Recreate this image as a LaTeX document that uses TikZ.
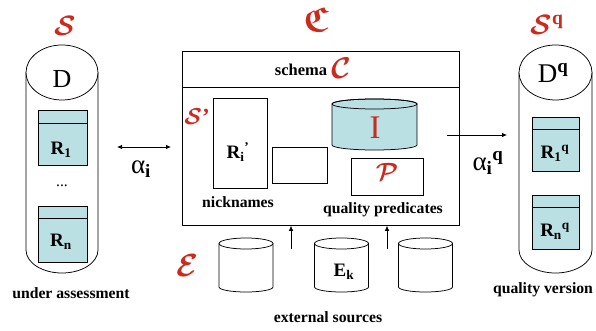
\RequirePackage{fix-cm}
\documentclass[tikz,border=0pt]{standalone}
\usepackage{amsmath,amssymb}
\usepackage{fontspec}
\setmainfont{Liberation Serif}
\usetikzlibrary{arrows.meta}
\definecolor{qred}{RGB}{205,42,30}
\definecolor{qcyan}{RGB}{187,224,228}
\newcommand\extcyl[2]{%
  \draw[fill=white] ({#1-27},243.5) -- ({#1-27},287) arc[start angle=180,end angle=360,x radius=27pt,y radius=5pt] -- ({#1+27},243.5);
  \draw (#1,243.5) ellipse[x radius=27pt,y radius=5.5pt];
  \node[inner sep=0,minimum width=54pt,minimum height=49pt] (#2) at (#1,265) {};}
\begin{document}
\begin{tikzpicture}[x=1pt,y=-1pt,line width=0.75pt,
  lbl/.style={font=\fontsize{15.7}{18}\selectfont\bfseries,inner sep=0,anchor=base},
  calli/.style={text=qred,inner sep=0},
  tbl/.style={draw,fill=qcyan,inner sep=0,anchor=north west},
  plainbox/.style={draw,inner sep=0,anchor=north west},
  rtxt/.style={font=\fontsize{19}{22}\selectfont\bfseries,inner sep=0},
  arr/.style={-{Latex[length=5pt,width=4.5pt]}},
  darr/.style={{Latex[length=5pt,width=4.5pt]}-{Latex[length=5pt,width=4.5pt]}}
]
\useasboundingbox (0,0) rectangle (596,331);

% ---------- left cylinder S ----------
\draw[fill=white] (26,72.5) -- (26,250) arc[start angle=180,end angle=360,x radius=36pt,y radius=23pt] -- (98,72.5);
\draw[fill=white] (62,72.5) ellipse[x radius=36pt,y radius=27.5pt];
\node[inner sep=0,minimum width=72pt,minimum height=228pt] (Scyl) at (62,159) {};
\node[inner sep=0,font=\fontsize{26}{28}\selectfont] (D) at (62,79) {D};
\node[calli,font=\fontsize{28}{30}\selectfont] (Slab) at (65,26) {$\boldsymbol{\mathcal{S}}$};
\node[tbl,minimum width=49pt,minimum height=55pt] (R1) at (38,110) {};
\draw (R1.north west) ++(0,13) -- ++(49,0);
\node[rtxt] (R1t) at (61,150) {R\textsubscript{1}};
\node[inner sep=0,font=\fontsize{15.7}{18}\selectfont] (dots) at (62,186) {...};
\node[tbl,minimum width=49pt,minimum height=56pt] (Rn) at (38,206) {};
\draw (Rn.north west) ++(0,12) -- ++(49,0);
\node[rtxt] (Rnt) at (61,242) {R\textsubscript{n}};
\node[lbl] (ua) at (71,298) {under assessment};

% ---------- alpha_i ----------
\coordinate (a1) at (117,147);
\coordinate (a2) at (171,147);
\draw[darr] (a1) -- (a2);
\node[inner sep=0,font=\fontsize{27}{30}\selectfont] (al) at (141,169) {α\textsubscript{\textbf{i}}};

% ---------- context box ----------
\node[calli,font=\fontsize{24.88}{28}\selectfont] (frak) at (316,19) {\scalebox{1.4}{$\boldsymbol{\mathfrak{C}}$}};
\node[plainbox,minimum width=277pt,minimum height=174pt] (ctx) at (182,51) {};
\draw (ctx.west |- 0,87) -- (ctx.east |- 0,87);
\node[lbl,font=\fontsize{16.5}{18}\selectfont\bfseries] (schema) at (301,76) {schema};
\node[calli,font=\fontsize{30}{32}\selectfont] (Clab) at (341,68) {$\boldsymbol{\mathcal{C}}$};
\node[calli,font=\fontsize{23}{25}\selectfont] (Sp) at (197,117) {$\boldsymbol{\mathcal{S}}$\textbf{’}};
\node[plainbox,minimum width=54pt,minimum height=90pt] (Ri) at (213,98) {};
\node[rtxt] (Rit) at (238,152) {R\textsubscript{i}\textsuperscript{’}};
\node[plainbox,minimum width=55pt,minimum height=36pt] (small) at (272,147) {};
\node[lbl] (nick) at (238,207) {nicknames};
% cylinder I
\draw[fill=qcyan] (332,104) -- (332,145) arc[start angle=180,end angle=360,x radius=42.5pt,y radius=5pt] -- (417,104) arc[start angle=0,end angle=180,x radius=42.5pt,y radius=5pt] -- cycle;
\draw (374.5,104) ellipse[x radius=42.5pt,y radius=5pt];
\node[inner sep=0,minimum width=85pt,minimum height=46pt] (Icyl) at (374.5,126) {};
\node[inner sep=0,text=qred,font=\fontsize{33}{35}\selectfont] (Itxt) at (375,128) {I};
\node[plainbox,minimum width=72pt,minimum height=37pt] (Pbox) at (351,158) {};
\node[calli,font=\fontsize{25}{27}\selectfont] (Plab) at (387,172) {$\boldsymbol{\mathcal{P}}$};
\node[lbl] (qp) at (383,213) {quality predicates};

% ---------- external sources ----------
\extcyl{246}{E1}
\extcyl{341.5}{Ek}
\extcyl{425.5}{E3}
\node[rtxt] (Ekt) at (344,272) {E\textsubscript{k}};
\node[calli,font=\fontsize{32}{34}\selectfont] (Elab) at (188,266) {$\boldsymbol{\mathcal{E}}$};
\node[lbl] (es) at (328,322) {external sources};
\coordinate (u1) at (291,249);
\coordinate (u2) at (387,249);
\draw[arr] (u1) -- (u1 |- ctx.south);
\draw[arr] (u2) -- (u2 |- ctx.south);

% ---------- alpha_i^q ----------
\coordinate (b1) at (447,135);
\coordinate (b2) at (507,135);
\draw[arr] (b1) -- (b2);
\node[inner sep=0,font=\fontsize{27}{30}\selectfont] (alq) at (488,163) {α\textsubscript{\textbf{i}}\textsuperscript{\textbf{q}}};

% ---------- right cylinder S^q ----------
\draw[fill=white] (519,72.5) -- (519,250) arc[start angle=180,end angle=360,x radius=36.5pt,y radius=23pt] -- (592,72.5);
\draw[fill=white] (555.5,72.5) ellipse[x radius=36.5pt,y radius=27.5pt];
\node[inner sep=0,minimum width=73pt,minimum height=228pt] (Sqcyl) at (555.5,159) {};
\node[inner sep=0,font=\fontsize{27}{29}\selectfont] (Dq) at (553,73) {D\textsuperscript{\textbf{q}}};
\node[calli,font=\fontsize{28}{30}\selectfont] (Sqlab) at (547,25) {$\boldsymbol{\mathcal{S}}$\textsuperscript{\textbf{q}}};
\node[tbl,minimum width=47pt,minimum height=54pt] (R1q) at (532,117) {};
\draw (R1q.north west) ++(0,12) -- ++(47,0);
\node[rtxt] (R1qt) at (555,153) {R\textsubscript{1}\textsuperscript{q}};
\node[tbl,minimum width=47pt,minimum height=54pt] (Rnq) at (532,195) {};
\draw (Rnq.north west) ++(0,12) -- ++(47,0);
\node[rtxt] (Rnqt) at (555,231) {R\textsubscript{n}\textsuperscript{q}};
\node[lbl] (qv) at (543,293) {quality version};
\end{tikzpicture}
\end{document}
